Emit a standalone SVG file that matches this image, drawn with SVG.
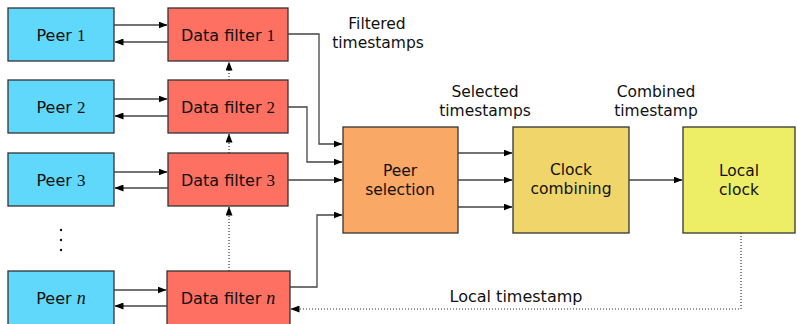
<svg xmlns="http://www.w3.org/2000/svg" width="797" height="324" viewBox="0 0 797 324">
<defs>
<marker id="ah" markerWidth="9" markerHeight="7" refX="8.5" refY="3.5" orient="auto" markerUnits="userSpaceOnUse">
<path d="M0,0 L9,3.5 L0,7 z" fill="#000"/>
</marker>
<style>
.box{stroke:#333;stroke-width:1.3}
.peer{fill:#60d8fc}
.filt{fill:#fd7062}
.sel{fill:#f9a866}
.comb{fill:#f0d56a}
.loc{fill:#eeee66}
text{font-family:"DejaVu Sans","Liberation Sans",sans-serif;font-size:16px;fill:#111;text-anchor:middle}
.two{font-size:15.5px}
.m{font-family:"Liberation Serif",serif;font-size:17px}
.mi{font-family:"Liberation Serif",serif;font-style:italic;font-size:18px}
.ln{fill:none;stroke:#444;stroke-width:1.3}
.dot{fill:none;stroke:#333;stroke-width:1.2;stroke-dasharray:1 2}
</style>
</defs>
<g id="peer1"><rect class="box peer" x="8" y="8" width="106" height="53"/><text x="61" y="41">Peer <tspan class="m">1</tspan></text></g>
<g id="peer2"><rect class="box peer" x="8" y="80" width="106" height="53"/><text x="61" y="113">Peer <tspan class="m">2</tspan></text></g>
<g id="peer3"><rect class="box peer" x="8" y="153" width="106" height="53"/><text x="61" y="186">Peer <tspan class="m">3</tspan></text></g>
<g id="peern"><rect class="box peer" x="8" y="271" width="106" height="60"/><text x="61" y="304">Peer <tspan class="mi">n</tspan></text></g>
<g id="vdots"><circle cx="61" cy="230" r="1.2" fill="#111"/><circle cx="61" cy="240" r="1.2" fill="#111"/><circle cx="61" cy="250" r="1.2" fill="#111"/></g>
<g id="filter1"><rect class="box filt" x="168" y="8" width="120" height="53"/><text x="228" y="41">Data filter <tspan class="m">1</tspan></text></g>
<g id="filter2"><rect class="box filt" x="168" y="80" width="120" height="53"/><text x="228" y="113">Data filter <tspan class="m">2</tspan></text></g>
<g id="filter3"><rect class="box filt" x="168" y="153" width="120" height="53"/><text x="228" y="186">Data filter <tspan class="m">3</tspan></text></g>
<g id="filtern"><rect class="box filt" x="167" y="271" width="123" height="60"/><text x="228" y="304">Data filter <tspan class="mi">n</tspan></text></g>
<g id="peersel"><rect class="box sel" x="343" y="127" width="115" height="106"/><text class="two" x="400" y="176">Peer</text><text class="two" x="400" y="195">selection</text></g>
<g id="clockcomb"><rect class="box comb" x="513" y="127" width="116" height="106"/><text class="two" x="571" y="175">Clock</text><text class="two" x="571" y="194">combining</text></g>
<g id="localclock"><rect class="box loc" x="683" y="127" width="112" height="106"/><text class="two" x="739" y="176">Local</text><text class="two" x="739" y="195">clock</text></g>
<g id="connectors">
<path class="ln" d="M114,25 H167" marker-end="url(#ah)"/>
<path class="ln" d="M168,42 H115" marker-end="url(#ah)"/>
<path class="ln" d="M114,99 H167" marker-end="url(#ah)"/>
<path class="ln" d="M168,116 H115" marker-end="url(#ah)"/>
<path class="ln" d="M114,172 H167" marker-end="url(#ah)"/>
<path class="ln" d="M168,188 H115" marker-end="url(#ah)"/>
<path class="ln" d="M114,290 H166" marker-end="url(#ah)"/>
<path class="ln" d="M167,306 H115" marker-end="url(#ah)"/>
<path class="dot" d="M229,80 V62" marker-end="url(#ah)"/>
<path class="dot" d="M229,153 V134" marker-end="url(#ah)"/>
<path class="dot" d="M229,271 V207" marker-end="url(#ah)"/>
<path class="ln" d="M288,34 H319 V144 H342" marker-end="url(#ah)"/>
<path class="ln" d="M288,107 H307 V162 H342" marker-end="url(#ah)"/>
<path class="ln" d="M288,180 H342" marker-end="url(#ah)"/>
<path class="ln" d="M290,287 H317 V215 H342" marker-end="url(#ah)"/>
<path class="ln" d="M458,153 H512" marker-end="url(#ah)"/>
<path class="ln" d="M458,180 H512" marker-end="url(#ah)"/>
<path class="ln" d="M458,207 H512" marker-end="url(#ah)"/>
<path class="ln" d="M629,180 H682" marker-end="url(#ah)"/>
<path class="dot" d="M741,233 V309 H291" marker-end="url(#ah)"/>
</g>
<g id="labels">
<text class="two" x="377" y="29">Filtered</text><text class="two" x="378" y="48">timestamps</text>
<text class="two" x="485" y="97">Selected</text><text class="two" x="485" y="116">timestamps</text>
<text class="two" x="656" y="97">Combined</text><text class="two" x="656" y="116">timestamp</text>
<text x="516" y="302">Local timestamp</text>
</g>
</svg>
